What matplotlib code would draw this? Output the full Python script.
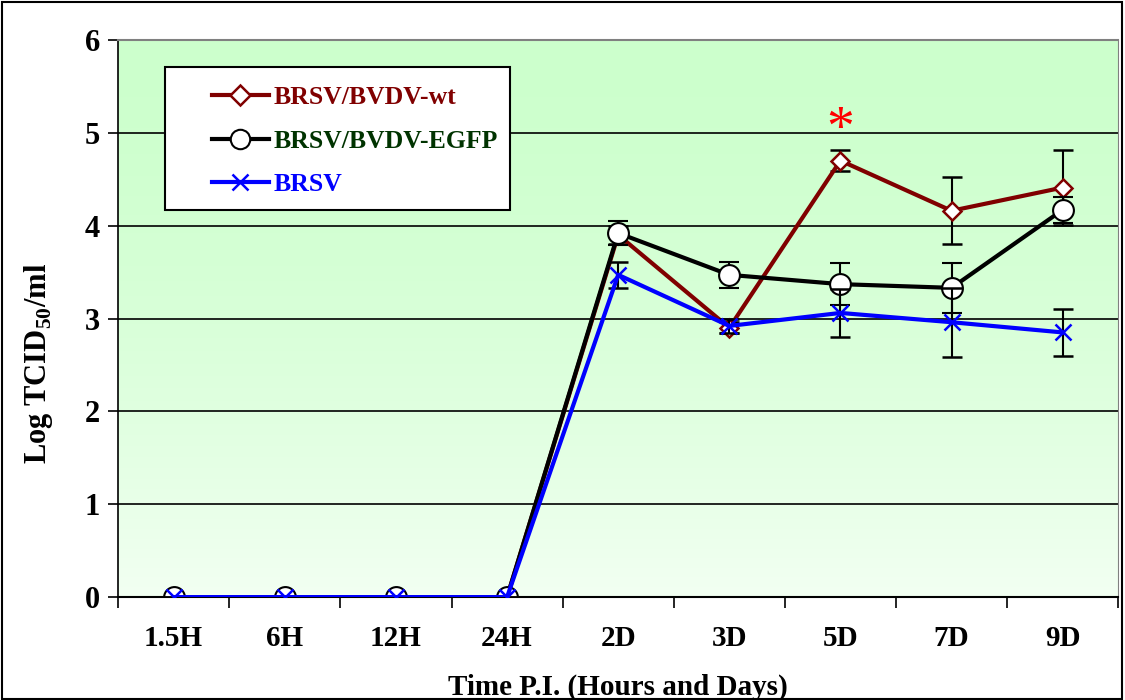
import numpy as np
import matplotlib.pyplot as plt
from matplotlib.patches import Rectangle
from matplotlib.lines import Line2D

plt.rcParams['font.family'] = ['Liberation Serif', 'DejaVu Serif']
plt.rcParams['font.weight'] = 'bold'
plt.rcParams['mathtext.fontset'] = 'custom'
plt.rcParams['mathtext.rm'] = 'Liberation Serif:bold'
plt.rcParams['mathtext.bf'] = 'Liberation Serif:bold'

# data
times = ['1.5H', '6H', '12H', '24H', '2D', '3D', '5D', '7D', '9D']
wt = [0, 0, 0, 0, 3.90, 2.90, 4.70, 4.16, 4.41]
wt_err = [0, 0, 0, 0, 0.10, 0.06, 0.11, 0.36, 0.40]
egfp = [0, 0, 0, 0, 3.92, 3.47, 3.37, 3.33, 4.17]
egfp_err = [0, 0, 0, 0, 0.13, 0.14, 0.23, 0.27, 0.14]
brsv = [0, 0, 0, 0, 3.47, 2.92, 3.06, 2.96, 2.85]
brsv_err = [0, 0, 0, 0, 0.14, 0.08, 0.26, 0.37, 0.25]
names = ['BRSV/BVDV-wt', 'BRSV/BVDV-EGFP', 'BRSV']

fig = plt.figure(figsize=(11.25, 7), dpi=100)
ax = fig.add_axes([0.105, 0.147, 0.889, 0.796])
x = np.arange(len(times))

# gradient background, green at top fading lighter toward bottom
grad = np.linspace(0, 1, 256).reshape(-1, 1)
top = np.array([204, 255, 204]) / 255
bot = np.array([242, 255, 242]) / 255
wgt = grad ** 1.6
cols = top[None, None, :] * (1 - wgt[..., None]) + bot[None, None, :] * wgt[..., None]
ax.imshow(cols, extent=[-0.5, 8.5, 0, 6], aspect='auto', origin='upper', zorder=0)

for yv in range(1, 6):
    ax.axhline(yv, color='black', lw=1.2, zorder=1)

ekw = dict(ecolor='black', elinewidth=1.5, capsize=7, capthick=1.5)
ax.errorbar(x, wt, yerr=wt_err, color='#800000', lw=3, marker='D', ms=9,
            mfc='white', mec='#800000', mew=1.8, zorder=3, **ekw)
ax.errorbar(x, egfp, yerr=egfp_err, color='black', lw=3, marker='o', ms=15,
            mfc='white', mec='black', mew=1.5, zorder=4, **ekw)
ax.errorbar(x, brsv, yerr=brsv_err, color='#0000ff', lw=3, marker='x', ms=12,
            mec='#0000ff', mew=1.8, zorder=5, **ekw)

ax.text(6, 5.02, '*', color='red', fontsize=40, ha='center', va='center', fontweight='normal')

ax.set_xlim(-0.5, 8.5)
ax.set_ylim(0, 6)
ax.set_xticks(x)
ax.set_xticklabels(times)
ax.set_xticks(np.arange(-0.5, 9, 1), minor=True)
ax.tick_params(axis='x', which='major', length=0, pad=20, labelsize=21)
ax.tick_params(axis='x', which='minor', length=8, width=1.2, direction='out')
ax.set_yticks(range(7))
ax.tick_params(axis='y', length=7, width=1.2, direction='out', labelsize=22, pad=6)
ax.spines['top'].set_color('#808080')
ax.spines['top'].set_linewidth(1.5)
ax.spines['left'].set_linewidth(1.2)
ax.spines['bottom'].set_linewidth(1.5)
ax.spines['right'].set_color('#808080')

ax.set_xlabel('Time P.I. (Hours and Days)', fontsize=21, fontweight='bold', labelpad=16)
ax.set_ylabel('Log TCID$_{\\mathbf{50}}$/ml', fontsize=22, fontweight='bold')
ax.yaxis.set_label_coords(-0.063, 0.42)

# legend: white box plus frameless legend inside
ax.add_patch(Rectangle((0.047, 0.695), 0.345, 0.2565, transform=ax.transAxes,
                       facecolor='white', edgecolor='black', lw=1.5, zorder=6))
handles = [
    Line2D([], [], color='#800000', lw=3, marker='D', ms=10, mfc='white', mec='#800000', mew=1.8),
    Line2D([], [], color='black', lw=3, marker='o', ms=14, mfc='white', mec='black', mew=1.5),
    Line2D([], [], color='#0000ff', lw=3, marker='x', ms=12, mec='#0000ff', mew=1.8),
]
leg = ax.legend(handles, names, loc='upper left', bbox_to_anchor=(0.094, 0.917), fontsize=18.5,
                frameon=False, borderpad=0, labelspacing=0.8, handlelength=2.2,
                handletextpad=0.2, borderaxespad=0)
leg.set_zorder(7)
for t, c in zip(leg.get_texts(), ['#800000', '#003300', '#0000ff']):
    t.set_color(c)
    t.set_fontweight('bold')

fig.patches.append(Rectangle((0.002, 0.002), 0.995, 0.995, transform=fig.transFigure,
                             fill=False, edgecolor='black', lw=1.5))

fig.savefig('out.png', dpi=100)
